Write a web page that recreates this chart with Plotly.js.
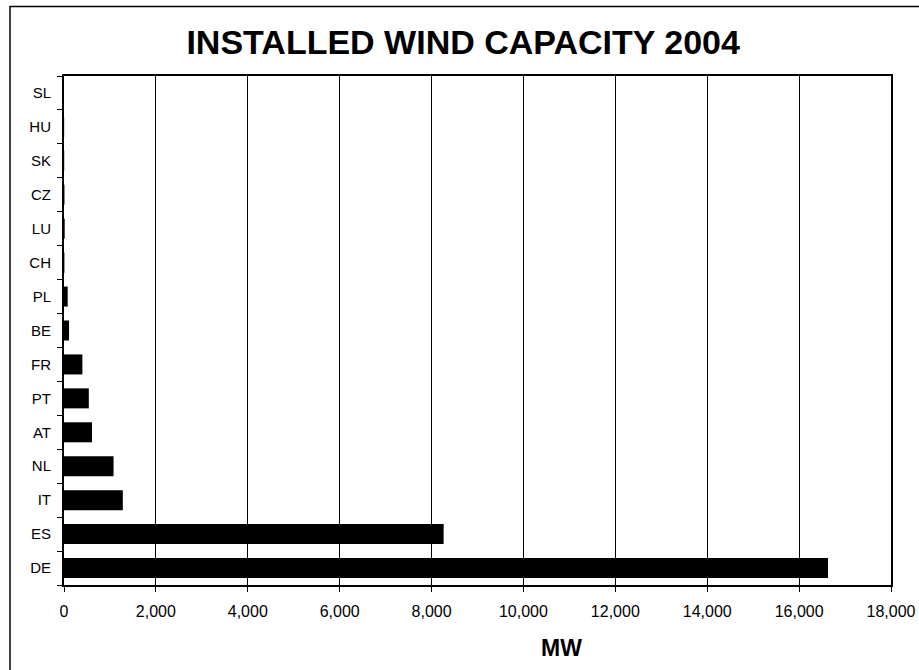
<!DOCTYPE html>
<html>
<head>
<meta charset="utf-8">
<script src="https://cdn.plot.ly/plotly-3.0.1.min.js"></script>
<style>
html,body{margin:0;padding:0;background:#fff;overflow:hidden;}
#chart{width:919px;height:670px;}
</style>
</head>
<body>
<div id="chart"></div>
<script>
// Countries listed bottom to top
const countries = ["DE","ES","IT","NL","AT","PT","FR","BE","PL","CH","LU","CZ","SK","HU","SL"];
const capacityMW = [16629, 8263, 1280, 1078, 610, 540, 400, 110, 80, 9, 15, 10, 5, 3, 0];
const xTickValues = [0,2000,4000,6000,8000,10000,12000,14000,16000,18000];
const xTickLabels = ["0","2,000","4,000","6,000","8,000","10,000","12,000","14,000","16,000","18,000"];
const xAxisTitle = "MW";
const chartTitle = "INSTALLED WIND CAPACITY 2004";

const FONT = "Liberation Sans, Arial, sans-serif";

const trace = {
  type: "bar",
  orientation: "h",
  y: countries,
  x: capacityMW,
  marker: {color: "#000000", line: {width: 0}},
  hoverinfo: "x+y"
};

const layout = {
  width: 919,
  height: 670,
  margin: {l: 64, r: 28, t: 76, b: 85, pad: 0},
  paper_bgcolor: "#ffffff",
  plot_bgcolor: "#ffffff",
  font: {family: FONT, color: "#000000", size: 15},
  showlegend: false,
  bargap: 0.41,
  title: {
    text: "<b>" + chartTitle + "</b>",
    font: {family: FONT, size: 34, color: "#000"},
    x: 0.504, xanchor: "center",
    y: 0.937, yanchor: "middle"
  },
  xaxis: {
    range: [0, 18000],
    tickmode: "array",
    tickvals: xTickValues,
    ticktext: xTickLabels,
    showgrid: true,
    gridcolor: "#000000",
    gridwidth: 1,
    zeroline: false,
    showline: true,
    linecolor: "#000000",
    linewidth: 2,
    mirror: true,
    ticks: "outside",
    ticklen: 5,
    tickwidth: 1,
    tickcolor: "#000000",
    tickfont: {family: FONT, size: 16, color: "#000"},
    ticklabelstandoff: 6,
    fixedrange: true
  },
  yaxis: {
    type: "category",
    categoryorder: "array",
    categoryarray: countries,
    showgrid: false,
    zeroline: false,
    showline: true,
    linecolor: "#000000",
    linewidth: 2,
    mirror: true,
    ticks: "outside",
    tickson: "boundaries",
    ticklen: 5,
    tickwidth: 1,
    tickcolor: "#000000",
    tickfont: {family: FONT, size: 15, color: "#000"},
    ticklabelstandoff: 8,
    fixedrange: true
  },
  annotations: [{
    text: "<b>" + xAxisTitle + "</b>",
    xref: "paper", yref: "paper",
    x: 0.602, y: -0.1238,
    xanchor: "center", yanchor: "middle",
    showarrow: false,
    font: {family: FONT, size: 23, color: "#000"}
  }],
  shapes: [{
    type: "rect",
    xref: "paper", yref: "paper",
    x0: -0.0653, x1: 1.3, y0: -0.4, y1: 1.1365,
    line: {color: "#000000", width: 1.5},
    fillcolor: "rgba(0,0,0,0)",
    layer: "below"
  }]
};

Plotly.newPlot("chart", [trace], layout, {displayModeBar: false, staticPlot: true});
</script>
</body>
</html>
